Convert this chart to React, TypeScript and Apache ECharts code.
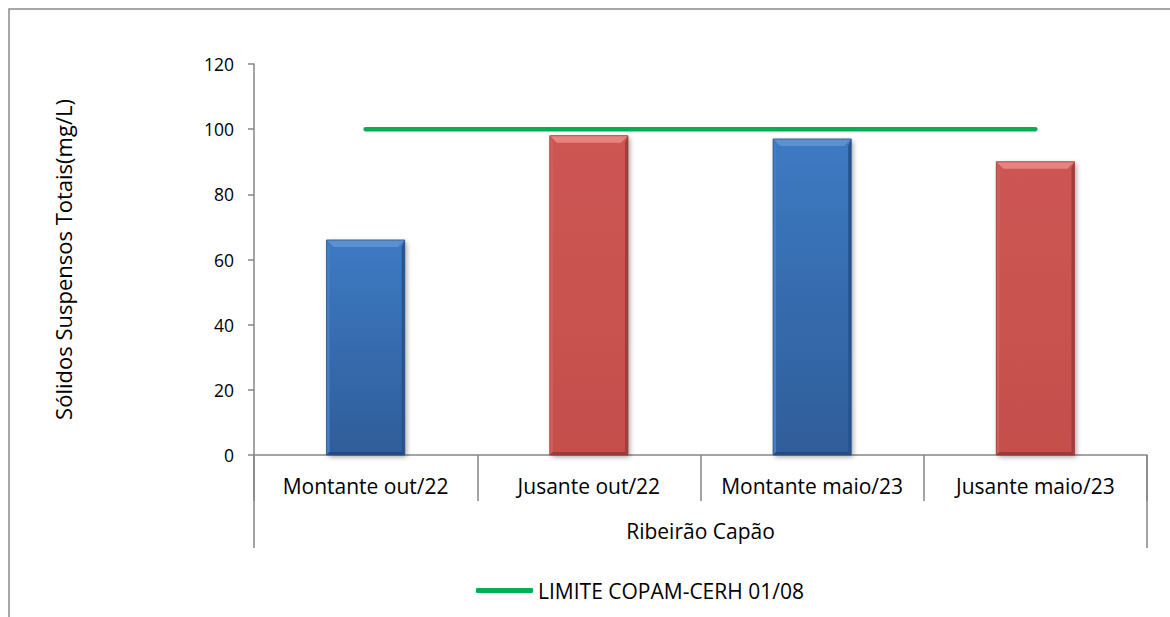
import React, { useEffect, useRef } from "react";
import * as echarts from "echarts";

const categories = ["Montante out/22", "Jusante out/22", "Montante maio/23", "Jusante maio/23"];
const groupLabels = ["Ribeirão Capão"];
const values = [66, 98, 97, 90];
const barKinds = ["blue", "red", "blue", "red"];
const limitValues = [100, 100, 100, 100];
const limitName = "LIMITE COPAM-CERH 01/08";
const yTitle = "Sólidos Suspensos Totais(mg/L)";

const palette: Record<string, any> = {
  blue: { top: "#3d7ac3", bottom: "#2f5d99", bevelTop: "#5c90d1", left: "#4480c8", right: "#28528c", bot: "#244a80", border: "#2a5289" },
  red: { top: "#cd5653", bottom: "#c44f4c", bevelTop: "#e8837f", left: "#d25e5a", right: "#9a403d", bot: "#9a3b38", border: "#9a3b38" },
};

export default function App() {
  const ref = useRef<HTMLDivElement>(null);
  useEffect(() => {
    const chart = echarts.init(ref.current!, undefined, { renderer: "svg" });
    const font = "'Open Sans', sans-serif";
    chart.setOption({
      animation: false,
      textStyle: { fontFamily: font, color: "#000" },
      graphic: [
        {
          type: "rect",
          shape: { x: 9, y: 9, width: 1400, height: 800 },
          style: { fill: "none", stroke: "#8a8a8a", lineWidth: 1.5 },
          silent: true,
          z: -10,
        },
      ],
      grid: { left: 254, right: 23, top: 64, bottom: 162, containLabel: false },
      legend: {
        data: [limitName],
        left: 471,
        top: 575,
        icon: "roundRect",
        itemWidth: 57,
        itemHeight: 5,
        textStyle: { fontFamily: font, fontSize: 21, color: "#000" },
      },
      xAxis: [
        {
          type: "category",
          data: categories,
          position: "bottom",
          axisLine: { show: true, lineStyle: { color: "#868686", width: 1.5 } },
          axisTick: { show: true, interval: 0, length: 46, alignWithLabel: false, lineStyle: { color: "#868686", width: 1.5 } },
          axisLabel: { interval: 0, fontSize: 21, color: "#000", fontFamily: font, margin: 20 },
          splitLine: { show: false },
        },
        {
          type: "category",
          data: groupLabels,
          position: "bottom",
          axisLine: { show: false },
          axisTick: { show: true, interval: 0, length: 93, alignWithLabel: false, lineStyle: { color: "#868686", width: 1.5 } },
          axisLabel: { interval: 0, fontSize: 21, color: "#000", fontFamily: font, margin: 65 },
          splitLine: { show: false },
        },
      ],
      yAxis: {
        type: "value",
        min: 0,
        max: 120,
        interval: 20,
        name: yTitle,
        nameLocation: "middle",
        nameRotate: 90,
        nameGap: 180,
        nameTextStyle: { fontSize: 22, color: "#000", fontFamily: font },
        axisLine: { show: true, lineStyle: { color: "#868686", width: 1.5 } },
        axisTick: { show: true, length: 6, lineStyle: { color: "#868686", width: 1.5 } },
        axisLabel: { fontSize: 17.5, color: "#000", fontFamily: font, margin: 20 },
        splitLine: { show: false },
      },
      series: [
        {
          type: "custom",
          name: "bars",
          xAxisIndex: 0,
          data: values.map((v, i) => [i, v]),
          encode: { x: 0, y: 1 },
          renderItem: (params: any, api: any) => {
            const i = api.value(0);
            const v = api.value(1);
            const top = api.coord([i, v]);
            const base = api.coord([i, 0]);
            const w = api.size([1, 0])[0] * 0.35;
            const x0 = top[0] - w / 2;
            const x1 = top[0] + w / 2;
            const y0 = top[1];
            const y1 = base[1];
            const bt = 7;
            const bs = 3;
            const c = palette[barKinds[params.dataIndex]];
            return {
              type: "group",
              children: [
                {
                  type: "rect",
                  shape: { x: x0, y: y0, width: w, height: y1 - y0 },
                  style: {
                    fill: new echarts.graphic.LinearGradient(0, 0, 0, 1, [
                      { offset: 0, color: c.top },
                      { offset: 1, color: c.bottom },
                    ]),
                    shadowBlur: 5,
                    shadowOffsetX: 2,
                    shadowOffsetY: 2,
                    shadowColor: "rgba(0,0,0,0.35)",
                  },
                },
                {
                  type: "polygon",
                  shape: { points: [[x0, y0], [x0 + bs, y0 + bt], [x0 + bs, y1 - bs], [x0, y1]] },
                  style: { fill: c.left },
                },
                {
                  type: "polygon",
                  shape: { points: [[x1, y0], [x1, y1], [x1 - bs, y1 - bs], [x1 - bs, y0 + bt]] },
                  style: { fill: c.right },
                },
                {
                  type: "polygon",
                  shape: { points: [[x0, y1], [x0 + bs, y1 - bs], [x1 - bs, y1 - bs], [x1, y1]] },
                  style: { fill: c.bot },
                },
                {
                  type: "polygon",
                  shape: { points: [[x0, y0], [x1, y0], [x1 - bt, y0 + bt], [x0 + bt, y0 + bt]] },
                  style: { fill: c.bevelTop },
                },
                {
                  type: "rect",
                  shape: { x: x0, y: y0, width: w, height: y1 - y0 },
                  style: { fill: "none", stroke: c.border, lineWidth: 0.8 },
                },
              ],
            };
          },
          z: 2,
        },
        {
          type: "line",
          name: limitName,
          xAxisIndex: 0,
          data: limitValues,
          symbol: "none",
          lineStyle: { color: "#00b050", width: 4.5, cap: "round" },
          itemStyle: { color: "#00b050" },
          z: 3,
        },
      ],
    });
    return () => chart.dispose();
  }, []);
  return (
    <div
      ref={ref}
      style={{ position: "fixed", left: 0, top: 0, width: 1170, height: 617, background: "#fff" }}
    />
  );
}
